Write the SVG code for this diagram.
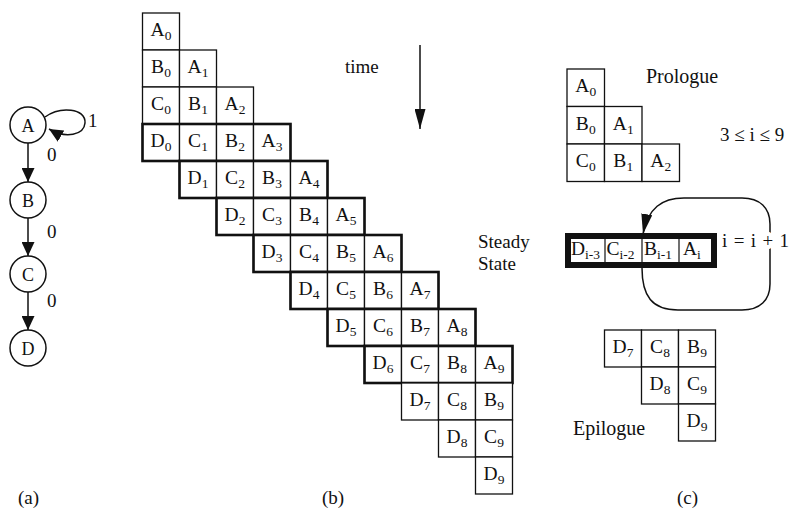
<svg xmlns="http://www.w3.org/2000/svg" width="792" height="515" viewBox="0 0 792 515">
<style>
text{font-family:"Liberation Serif","Times New Roman",serif;fill:#111}
.cl{font-size:19.5px;text-anchor:middle}
.cs{font-size:19.5px}
.sb{font-size:13.5px}
.lb{font-size:19px}
.th{fill:#fff;stroke:#111;stroke-width:1.3}
.tk{fill:none;stroke:#111;stroke-width:2.6}
.ln{fill:none;stroke:#111;stroke-width:1.5}
.nd{fill:#fff;stroke:#111;stroke-width:1.5}
</style>
<defs>
<marker id="ah" markerUnits="userSpaceOnUse" markerWidth="14" markerHeight="13" refX="14" refY="6.5" orient="auto" viewBox="0 0 14 13"><path d="M0,0 L14,6.5 L0,13 z" fill="#111"/></marker>
<marker id="ahl" markerUnits="userSpaceOnUse" markerWidth="20" markerHeight="11" refX="20" refY="5.5" orient="auto" viewBox="0 0 20 11"><path d="M0,0 L20,5.5 L0,11 z" fill="#111"/></marker>
</defs>
<rect width="792" height="515" fill="#fff"/>

<!-- (a) graph -->
<g id="connectors">
<line class="ln" x1="28" y1="143" x2="28" y2="182" marker-end="url(#ah)"/>
<line class="ln" x1="28" y1="218" x2="28" y2="256" marker-end="url(#ah)"/>
<line class="ln" x1="28" y1="292" x2="28" y2="330" marker-end="url(#ah)"/>
<path class="ln" d="M45,117 C60,106 86,108 85,123 C84,135 66,139 49,129" marker-end="url(#ah)"/>
<line class="ln" x1="420" y1="45" x2="420" y2="129" marker-end="url(#ahl)"/>
<path class="ln" d="M642,268 C642,296 652,310 678,310 L742,310 C760,310 770,300 770,284 L770,224 C770,208 760,198 742,198 L684,198 C662,198 648,208 643,234" marker-end="url(#ahl)"/>
</g>
<g id="nodeA"><circle class="nd" cx="28" cy="125" r="18"/><text class="cl" x="28" y="131.5" style="font-size:18px">A</text></g>
<g id="nodeB"><circle class="nd" cx="28" cy="200" r="18"/><text class="cl" x="28" y="206.5" style="font-size:18px">B</text></g>
<g id="nodeC"><circle class="nd" cx="28" cy="274" r="18"/><text class="cl" x="28" y="280.5" style="font-size:18px">C</text></g>
<g id="nodeD"><circle class="nd" cx="28" cy="348" r="18"/><text class="cl" x="28" y="354.5" style="font-size:18px">D</text></g>
<g id="edge-labels">
<text class="lb" x="88" y="127">1</text>
<text class="lb" x="47" y="161">0</text>
<text class="lb" x="47" y="238">0</text>
<text class="lb" x="47" y="307">0</text>
</g>
<text class="lb" x="18" y="504">(a)</text>
<text class="lb" x="322" y="504">(b)</text>
<text class="lb" x="677" y="504">(c)</text>

<!-- (b) schedule grid -->
<g id="grid">
<g id="row0">
<rect class="th" x="142.5" y="13" width="37" height="37"/>
<text class="cl" x="161" y="36">A<tspan class="sb" dy="4">0</tspan></text>
</g>
<g id="row1">
<rect class="th" x="142.5" y="50" width="37" height="37"/><rect class="th" x="179.5" y="50" width="37" height="37"/>
<text class="cl" x="161" y="73">B<tspan class="sb" dy="4">0</tspan></text>
<text class="cl" x="198" y="73">A<tspan class="sb" dy="4">1</tspan></text>
</g>
<g id="row2">
<rect class="th" x="142.5" y="87" width="37" height="37"/><rect class="th" x="179.5" y="87" width="37" height="37"/><rect class="th" x="216.5" y="87" width="37" height="37"/>
<text class="cl" x="161" y="110">C<tspan class="sb" dy="4">0</tspan></text>
<text class="cl" x="198" y="110">B<tspan class="sb" dy="4">1</tspan></text>
<text class="cl" x="235" y="110">A<tspan class="sb" dy="4">2</tspan></text>
</g>
<g id="row3">
<rect class="th" x="142.5" y="124" width="37" height="37"/><rect class="th" x="179.5" y="124" width="37" height="37"/><rect class="th" x="216.5" y="124" width="37" height="37"/><rect class="th" x="253.5" y="124" width="37" height="37"/>
<rect class="tk" x="142.5" y="124" width="148" height="37"/>
<text class="cl" x="161" y="147">D<tspan class="sb" dy="4">0</tspan></text>
<text class="cl" x="198" y="147">C<tspan class="sb" dy="4">1</tspan></text>
<text class="cl" x="235" y="147">B<tspan class="sb" dy="4">2</tspan></text>
<text class="cl" x="272" y="147">A<tspan class="sb" dy="4">3</tspan></text>
</g>
<g id="row4">
<rect class="th" x="179.5" y="161" width="37" height="37"/><rect class="th" x="216.5" y="161" width="37" height="37"/><rect class="th" x="253.5" y="161" width="37" height="37"/><rect class="th" x="290.5" y="161" width="37" height="37"/>
<rect class="tk" x="179.5" y="161" width="148" height="37"/>
<text class="cl" x="198" y="184">D<tspan class="sb" dy="4">1</tspan></text>
<text class="cl" x="235" y="184">C<tspan class="sb" dy="4">2</tspan></text>
<text class="cl" x="272" y="184">B<tspan class="sb" dy="4">3</tspan></text>
<text class="cl" x="309" y="184">A<tspan class="sb" dy="4">4</tspan></text>
</g>
<g id="row5">
<rect class="th" x="216.5" y="198" width="37" height="37"/><rect class="th" x="253.5" y="198" width="37" height="37"/><rect class="th" x="290.5" y="198" width="37" height="37"/><rect class="th" x="327.5" y="198" width="37" height="37"/>
<rect class="tk" x="216.5" y="198" width="148" height="37"/>
<text class="cl" x="235" y="221">D<tspan class="sb" dy="4">2</tspan></text>
<text class="cl" x="272" y="221">C<tspan class="sb" dy="4">3</tspan></text>
<text class="cl" x="309" y="221">B<tspan class="sb" dy="4">4</tspan></text>
<text class="cl" x="346" y="221">A<tspan class="sb" dy="4">5</tspan></text>
</g>
<g id="row6">
<rect class="th" x="253.5" y="235" width="37" height="37"/><rect class="th" x="290.5" y="235" width="37" height="37"/><rect class="th" x="327.5" y="235" width="37" height="37"/><rect class="th" x="364.5" y="235" width="37" height="37"/>
<rect class="tk" x="253.5" y="235" width="148" height="37"/>
<text class="cl" x="272" y="258">D<tspan class="sb" dy="4">3</tspan></text>
<text class="cl" x="309" y="258">C<tspan class="sb" dy="4">4</tspan></text>
<text class="cl" x="346" y="258">B<tspan class="sb" dy="4">5</tspan></text>
<text class="cl" x="383" y="258">A<tspan class="sb" dy="4">6</tspan></text>
</g>
<g id="row7">
<rect class="th" x="290.5" y="272" width="37" height="37"/><rect class="th" x="327.5" y="272" width="37" height="37"/><rect class="th" x="364.5" y="272" width="37" height="37"/><rect class="th" x="401.5" y="272" width="37" height="37"/>
<rect class="tk" x="290.5" y="272" width="148" height="37"/>
<text class="cl" x="309" y="295">D<tspan class="sb" dy="4">4</tspan></text>
<text class="cl" x="346" y="295">C<tspan class="sb" dy="4">5</tspan></text>
<text class="cl" x="383" y="295">B<tspan class="sb" dy="4">6</tspan></text>
<text class="cl" x="420" y="295">A<tspan class="sb" dy="4">7</tspan></text>
</g>
<g id="row8">
<rect class="th" x="327.5" y="309" width="37" height="37"/><rect class="th" x="364.5" y="309" width="37" height="37"/><rect class="th" x="401.5" y="309" width="37" height="37"/><rect class="th" x="438.5" y="309" width="37" height="37"/>
<rect class="tk" x="327.5" y="309" width="148" height="37"/>
<text class="cl" x="346" y="332">D<tspan class="sb" dy="4">5</tspan></text>
<text class="cl" x="383" y="332">C<tspan class="sb" dy="4">6</tspan></text>
<text class="cl" x="420" y="332">B<tspan class="sb" dy="4">7</tspan></text>
<text class="cl" x="457" y="332">A<tspan class="sb" dy="4">8</tspan></text>
</g>
<g id="row9">
<rect class="th" x="364.5" y="346" width="37" height="37"/><rect class="th" x="401.5" y="346" width="37" height="37"/><rect class="th" x="438.5" y="346" width="37" height="37"/><rect class="th" x="475.5" y="346" width="37" height="37"/>
<rect class="tk" x="364.5" y="346" width="148" height="37"/>
<text class="cl" x="383" y="369">D<tspan class="sb" dy="4">6</tspan></text>
<text class="cl" x="420" y="369">C<tspan class="sb" dy="4">7</tspan></text>
<text class="cl" x="457" y="369">B<tspan class="sb" dy="4">8</tspan></text>
<text class="cl" x="494" y="369">A<tspan class="sb" dy="4">9</tspan></text>
</g>
<g id="row10">
<rect class="th" x="401.5" y="383" width="37" height="37"/><rect class="th" x="438.5" y="383" width="37" height="37"/><rect class="th" x="475.5" y="383" width="37" height="37"/>
<text class="cl" x="420" y="406">D<tspan class="sb" dy="4">7</tspan></text>
<text class="cl" x="457" y="406">C<tspan class="sb" dy="4">8</tspan></text>
<text class="cl" x="494" y="406">B<tspan class="sb" dy="4">9</tspan></text>
</g>
<g id="row11">
<rect class="th" x="438.5" y="420" width="37" height="37"/><rect class="th" x="475.5" y="420" width="37" height="37"/>
<text class="cl" x="457" y="443">D<tspan class="sb" dy="4">8</tspan></text>
<text class="cl" x="494" y="443">C<tspan class="sb" dy="4">9</tspan></text>
</g>
<g id="row12">
<rect class="th" x="475.5" y="457" width="37" height="37"/>
<text class="cl" x="494" y="480">D<tspan class="sb" dy="4">9</tspan></text>
</g>
</g>
<text class="lb" x="345" y="73">time</text>

<!-- (c) -->
<g id="prologue">
<rect class="th" x="567" y="69" width="37.5" height="37.5"/>
<rect class="th" x="567" y="106.5" width="37.5" height="37.5"/><rect class="th" x="604.5" y="106.5" width="37.5" height="37.5"/>
<rect class="th" x="567" y="144" width="37.5" height="37.5"/><rect class="th" x="604.5" y="144" width="37.5" height="37.5"/><rect class="th" x="642" y="144" width="37.5" height="37.5"/>
<text class="cl" x="585.75" y="92">A<tspan class="sb" dy="4">0</tspan></text>
<text class="cl" x="585.75" y="129.5">B<tspan class="sb" dy="4">0</tspan></text>
<text class="cl" x="623.25" y="129.5">A<tspan class="sb" dy="4">1</tspan></text>
<text class="cl" x="585.75" y="167">C<tspan class="sb" dy="4">0</tspan></text>
<text class="cl" x="623.25" y="167">B<tspan class="sb" dy="4">1</tspan></text>
<text class="cl" x="660.75" y="167">A<tspan class="sb" dy="4">2</tspan></text>
<text class="lb" x="646" y="83" style="font-size:20px">Prologue</text>
</g>
<text class="lb" x="720" y="141">3 ≤ i ≤ 9</text>

<g id="steady">
<rect x="568" y="236" width="146" height="29" fill="#fff" stroke="#111" stroke-width="6"/>
<line x1="605" y1="239" x2="605" y2="262" stroke="#111" stroke-width="1.2"/>
<line x1="642" y1="239" x2="642" y2="262" stroke="#111" stroke-width="1.2"/>
<line x1="679" y1="239" x2="679" y2="262" stroke="#111" stroke-width="1.2"/>
<text class="cs" x="571" y="255">D<tspan class="sb" dy="3.5">i-3</tspan></text>
<text class="cs" x="606.5" y="255">C<tspan class="sb" dy="3.5">i-2</tspan></text>
<text class="cs" x="644" y="255">B<tspan class="sb" dy="3.5">i-1</tspan></text>
<text class="cs" x="683" y="255">A<tspan class="sb" dy="3.5">i</tspan></text>
</g>
<text class="lb" x="478" y="248">Steady</text>
<text class="lb" x="478" y="270">State</text>
<text class="lb" x="722" y="247" textLength="67" lengthAdjust="spacing" style="paint-order:stroke;stroke:#fff;stroke-width:8px;stroke-linejoin:round">i=i+1</text>

<g id="epilogue">
<rect class="th" x="604.5" y="330" width="37" height="37"/><rect class="th" x="641.5" y="330" width="37" height="37"/><rect class="th" x="678.5" y="330" width="37" height="37"/>
<rect class="th" x="641.5" y="367" width="37" height="37"/><rect class="th" x="678.5" y="367" width="37" height="37"/>
<rect class="th" x="678.5" y="404" width="37" height="37"/>
<text class="cl" x="623" y="353">D<tspan class="sb" dy="4">7</tspan></text>
<text class="cl" x="660" y="353">C<tspan class="sb" dy="4">8</tspan></text>
<text class="cl" x="697" y="353">B<tspan class="sb" dy="4">9</tspan></text>
<text class="cl" x="660" y="390">D<tspan class="sb" dy="4">8</tspan></text>
<text class="cl" x="697" y="390">C<tspan class="sb" dy="4">9</tspan></text>
<text class="cl" x="697" y="427">D<tspan class="sb" dy="4">9</tspan></text>
<text class="lb" x="573" y="435" style="font-size:20px">Epilogue</text>
</g>
</svg>
